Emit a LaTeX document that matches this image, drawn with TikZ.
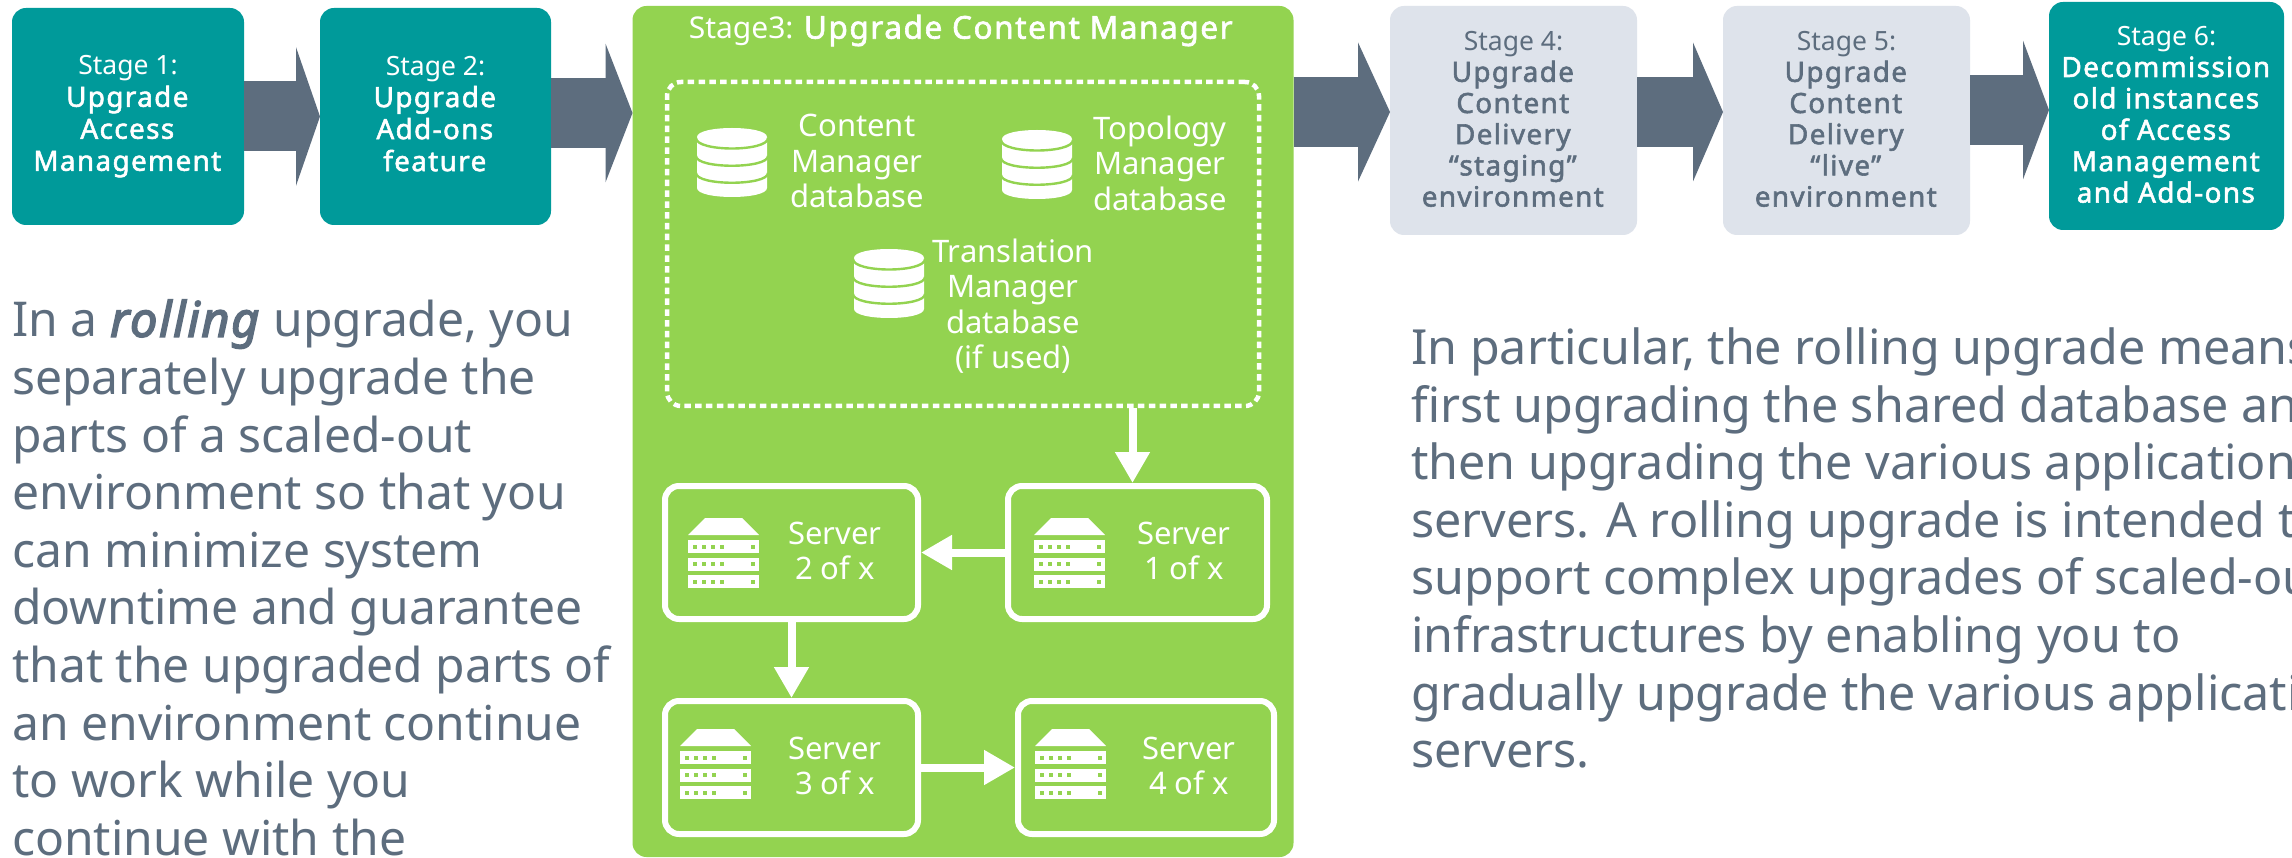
\documentclass[tikz,border=0pt]{standalone}
\usepackage{fontspec}
\setmainfont{Noto Sans}[BoldFont={Noto Sans},BoldItalicFont={Noto Sans/I},BoldFeatures={FakeBold=2,LetterSpace=5,Scale=1.05},BoldItalicFeatures={FakeBold=3,LetterSpace=3,Scale=1.02}]
\usetikzlibrary{arrows.meta}
\definecolor{teal}{HTML}{009A9A}
\definecolor{lime}{HTML}{93D350}
\definecolor{pale}{HTML}{DEE3EB}
\definecolor{slate}{HTML}{5D6D7E}
\tikzset{
  x=1pt,y=-1pt,
  stagebox/.style={rounded corners=14pt,inner sep=0pt,outer sep=0pt,align=center,font=\fontsize{26.5}{32}\selectfont},
  tealbox/.style={stagebox,fill=teal,text=white},
  palebox/.style={stagebox,fill=pale,text=slate},
  fatarrow/.style={draw=slate,line width=70pt,-{Triangle[length=#1pt,width=138pt,fill=slate]}},
  thinarrow/.style={draw=white,line width=8pt,-{Triangle[length=31pt,width=33pt,fill=white]}},
  serverbox/.style={draw=white,line width=6pt,rounded corners=14pt,minimum width=#1pt,minimum height=133pt,inner sep=0pt},
  lbl/.style={text=white,align=center,inner sep=0pt,font=\fontsize{31}{35.5}\selectfont},
  body/.style={text=slate,align=left,inner sep=0pt,anchor=north west,font=\fontsize{48}{57.6}\selectfont},
  dbicon/.pic={
    \fill[white] (0,9) .. controls (0,-3) and (70,-3) .. (70,9) -- (70,60) .. controls (70,72) and (0,72) .. (0,60) -- cycle;
    \draw[lime,line width=2.4pt] (-1,10) .. controls (-1,24) and (71,24) .. (71,10);
    \draw[lime,line width=2.4pt] (-1,28) .. controls (-1,41) and (71,41) .. (71,28);
    \draw[lime,line width=2.4pt] (-1,45) .. controls (-1,58) and (71,58) .. (71,45);
  },
  srvbar/.pic={
    \fill[white] (0,0) rectangle (71,13);
    \foreach \d in {7,16,25,34,65} \fill[lime] (\d-2,4.5) rectangle (\d+2,8.5);
  },
  srvicon/.pic={
    \fill[white] (17,0) -- (54,0) -- (71,17) -- (0,17) -- cycle;
    \pic at (0,22) {srvbar};
    \pic at (0,39.5) {srvbar};
    \pic at (0,57) {srvbar};
  }
}
\begin{document}
\begin{tikzpicture}
\useasboundingbox (0,0) rectangle (2292,858);
\fill[white] (0,0) rectangle (2292,858);

% stage boxes
\node[tealbox,minimum width=232pt,minimum height=217pt] (s1) at (128,116.5) {Stage 1:\\\textbf{Upgrade}\\\textbf{Access}\\\textbf{Management}};
\node[tealbox,minimum width=231pt,minimum height=217pt] (s2) at (435.5,116.5) {Stage 2:\\\textbf{Upgrade}\\\textbf{Add-ons}\\\textbf{feature}\rule[-6pt]{0pt}{0pt}};
\node[stagebox,fill=lime,minimum width=661pt,minimum height=851pt] (s3) at (963,431.5) {};
\node[palebox,minimum width=247pt,minimum height=229pt,font=\fontsize{26.5}{31.2}\selectfont] (s4) at (1513.5,120.5) {Stage 4:\\\textbf{Upgrade}\\\textbf{Content}\\\textbf{Delivery}\\\textbf{“staging”}\\\textbf{environment}\rule[-3pt]{0pt}{0pt}};
\node[palebox,minimum width=247pt,minimum height=229pt,font=\fontsize{26.5}{31.2}\selectfont] (s5) at (1846.5,120.5) {Stage 5:\\\textbf{Upgrade}\\\textbf{Content}\\\textbf{Delivery}\\\textbf{“live”}\\\textbf{environment}\rule[-3pt]{0pt}{0pt}};
\node[tealbox,minimum width=235pt,minimum height=228pt,font=\fontsize{26.5}{31.4}\selectfont] (s6) at (2166.5,116) {Stage 6:\\\textbf{Decommission}\\\textbf{old instances}\\\textbf{of Access}\\\textbf{Management}\\\textbf{and Add-ons}\rule[-3pt]{0pt}{0pt}};

% fat arrows
\draw[fatarrow=24] (s1.east) -- (s2.west);
\draw[fatarrow=27] (s2.east |- 0,113) -- (s3.west |- 0,113);
\draw[fatarrow=32] (s3.east |- 0,112) -- (s4.west |- 0,112);
\draw[fatarrow=30] (s4.east |- 0,112) -- (s5.west |- 0,112);
\draw[fatarrow=26] (s5.east |- 0,110) -- (s6.west |- 0,110);

% stage 3 content
\node[lbl,font=\fontsize{30}{35}\selectfont] (title) at (961.5,30.5) {Stage3: \textbf{Upgrade Content Manager}};
\node[draw=white,line width=4.5pt,dash pattern=on 6.5pt off 4.3pt,rounded corners=14pt,minimum width=592pt,minimum height=324pt,inner sep=0pt] (dbs) at (963,244) {};
\pic at (697,128) {dbicon};
\pic at (1002,130) {dbicon};
\pic at (854,249) {dbicon};
\node[lbl] (db1) at (857,161) {Content\\Manager\\database};
\node[lbl] (db2) at (1160,163) {Topology\\Manager\\database};
\node[lbl] (db3) at (1013,306) {Translation\\Manager\\database\\(if used)};

\node[serverbox=259] (v1) at (1137.5,552.5) {};
\node[serverbox=253] (v2) at (791.5,552.5) {};
\node[serverbox=253] (v3) at (791.5,767.5) {};
\node[serverbox=256] (v4) at (1146,767.5) {};
\pic at (1034,518) {srvicon};
\pic at (688,518) {srvicon};
\pic at (680,729) {srvicon};
\pic at (1035,729) {srvicon};
\node[lbl] (t1) at (1184,551) {Server\\1 of x};
\node[lbl] (t2) at (835,551) {Server\\2 of x};
\node[lbl] (t3) at (835,766) {Server\\3 of x};
\node[lbl] (t4) at (1189,766) {Server\\4 of x};

\draw[thinarrow] ([xshift=169.5pt]dbs.south) -- ([xshift=-5pt]v1.north);
\draw[thinarrow] (v1.west) -- (v2.east);
\draw[thinarrow] (v2.south) -- (v3.north);
\draw[thinarrow] (v3.east) -- (v4.west);

% body text
\node[body] (left) at (12,299.5) {In a \textbf{\textit{rolling}} upgrade, you\\separately upgrade the\\parts of a scaled-out\\environment so that you\\can minimize system\\downtime and guarantee\\that the upgraded parts of\\an environment continue\\to work while you\\continue with the};
\node[body,font=\fontsize{48.4}{57.6}\selectfont] (right) at (1411,327.5) {In particular, the rolling upgrade means\\first upgrading the shared database an\\then upgrading the various application\\servers. A rolling upgrade is intended to\\support complex upgrades of scaled-ou\\infrastructures by enabling you to\\gradually upgrade the various applicati\\servers.};
\end{tikzpicture}
\end{document}
